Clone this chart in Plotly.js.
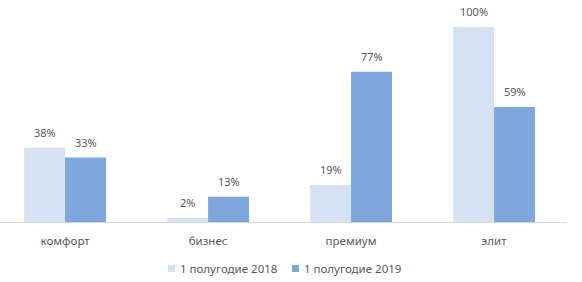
<!DOCTYPE html>
<html>
<head>
<meta charset="utf-8">
<script src="https://cdn.plot.ly/plotly-3.0.1.min.js"></script>
<style>html,body{margin:0;padding:0;background:#fff;}#chart{width:582px;height:282px;}</style>
</head>
<body>
<div id="chart"></div>
<script>
const categories = ["комфорт", "бизнес", "премиум", "элит"];
const series2018 = [38, 2, 19, 100];
const series2019 = [33, 13, 77, 59];
const seriesNames = ["1 полугодие 2018", "1 полугодие 2019"];

const font = "Noto Sans, Open Sans, sans-serif";
const colors = ["#d5e2f3", "#7da7dd"];
const txtColor = "#595959";

const allSeries = [series2018, series2019];
const traces = allSeries.map((vals, i) => ({
  type: "bar",
  x: categories,
  y: vals,
  name: seriesNames[i],
  marker: {color: colors[i]},
  showlegend: false,
  hoverinfo: "skip"
}));

// data labels above bars
const annotations = [];
allSeries.forEach((vals, i) => {
  vals.forEach((v, j) => {
    annotations.push({
      x: categories[j], y: v, xref: "x", yref: "y",
      text: v + "%", showarrow: false,
      xshift: i === 0 ? -20.5 : 20.5, yshift: 6,
      yanchor: "bottom", xanchor: "center",
      font: {family: font, size: 11, color: txtColor}
    });
  });
});

// manual legend (small squares close to text)
const legendX = [168, 292];
const shapes = [];
seriesNames.forEach((n, i) => {
  shapes.push({
    type: "rect", xref: "paper", yref: "paper",
    x0: legendX[i] / 567, x1: (legendX[i] + 7) / 567,
    y0: (222 - 272) / 222, y1: (222 - 265) / 222,
    fillcolor: colors[i], line: {width: 0}
  });
  annotations.push({
    xref: "paper", yref: "paper",
    x: (legendX[i] + 10) / 567, y: (222 - 268.5) / 222,
    xanchor: "left", yanchor: "middle", showarrow: false,
    text: n, font: {family: font, size: 11.5, color: txtColor}
  });
});

const layout = {
  width: 582, height: 282,
  margin: {l: 0, r: 15, t: 0, b: 60},
  paper_bgcolor: "#fff", plot_bgcolor: "#fff",
  barmode: "group", bargap: 0.427, bargroupgap: 0,
  font: {family: font, size: 11, color: txtColor},
  xaxis: {
    type: "category", range: [-0.455, 3.51],
    showline: true, linecolor: "#d9d9d9", linewidth: 1,
    ticks: "", showgrid: false, ticklabelstandoff: 8,
    tickfont: {family: font, size: 11.5, color: txtColor},
    fixedrange: true
  },
  yaxis: {range: [0, 113.8], visible: false, showgrid: false, zeroline: false, fixedrange: true},
  annotations: annotations,
  shapes: shapes,
  showlegend: false
};
Plotly.newPlot("chart", traces, layout, {displayModeBar: false, staticPlot: true});
</script>
</body>
</html>
